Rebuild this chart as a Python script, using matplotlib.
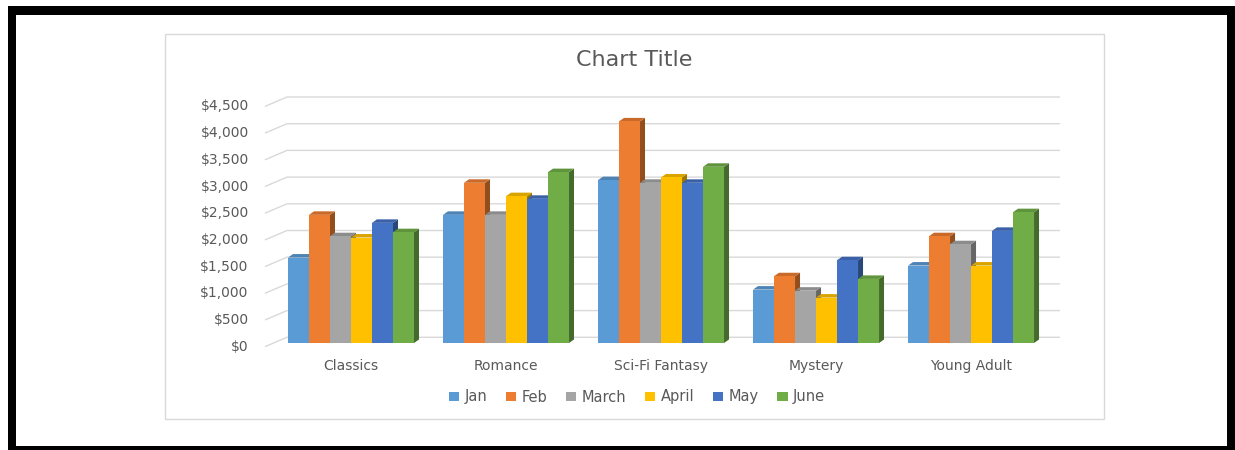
import matplotlib
matplotlib.use('Agg')
import matplotlib.pyplot as plt
import matplotlib.colors as mcolors
import matplotlib.transforms as mtransforms
from matplotlib.patches import Polygon, Rectangle, Patch

# monthly sales per genre
categories = ['Classics', 'Romance', 'Sci-Fi Fantasy', 'Mystery', 'Young Adult']
months = ['Jan', 'Feb', 'March', 'April', 'May', 'June']
jan = [1600, 2400, 3050, 1000, 1450]
feb = [2400, 3000, 4150, 1250, 2000]
march = [2000, 2400, 3000, 980, 1850]
april = [1975, 2750, 3100, 850, 1450]
may = [2250, 2700, 3000, 1550, 2100]
june = [2075, 3200, 3300, 1200, 2450]
yticks = [0, 500, 1000, 1500, 2000, 2500, 3000, 3500, 4000, 4500]

series = [jan, feb, march, april, may, june]
colors = ['#5B9BD5', '#ED7D31', '#A5A5A5', '#FFC000', '#4472C4', '#70AD47']
text_color = '#595959'
grid_color = '#D9D9D9'

W, H = 1235, 450
fig = plt.figure(figsize=(W / 100, H / 100), dpi=100)


def px_box(x0, y0, x1, y1):
    # pixel box (top-left origin) -> figure fraction rectangle args
    return (x0 / W, 1 - y1 / H), (x1 - x0) / W, (y1 - y0) / H


# black frame round the sheet
for box in [(8, 6, 16, 450), (8, 6, 1235, 15), (1227, 6, 1235, 450), (8, 446, 1235, 450)]:
    xy, w, h = px_box(*box)
    fig.add_artist(Rectangle(xy, w, h, transform=fig.transFigure,
                             facecolor='black', edgecolor='none'))

# chart area border
xy, w, h = px_box(165, 34, 1104, 419)
fig.add_artist(Rectangle(xy, w, h, transform=fig.transFigure, facecolor='white',
                         edgecolor=grid_color, linewidth=1, zorder=0))

ax = fig.add_axes([250 / W, (H - 355) / H, 830 / W, 265 / H])
ax.patch.set_visible(False)
ax.set_xlim(-0.6516, 4.703)
ax.set_ylim(-225, 4738)
for s in ax.spines.values():
    s.set_visible(False)

# pixel -> data scale factors
xpx = 1 / 155.0
ypx = 1 / 0.0534

# back wall gridlines with the slanted floor/side edge at the left
back_dy = 5.7 * ypx
front_dy = -3.7 * ypx
for v in yticks:
    ax.plot([-0.555, -0.413, 4.574], [v + front_dy, v + back_dy, v + back_dy],
            color=grid_color, lw=1, zorder=1, solid_capstyle='butt')

# y labels sit at the front edge
offset = mtransforms.ScaledTranslation(0, -3.7 / 100, fig.dpi_scale_trans)
for v in yticks:
    ax.text(-0.66, v, '${:,}'.format(v), transform=ax.transData + offset,
            ha='right', va='center', fontsize=10, color=text_color)

# 3D columns: front face via bar(), side and top faces as polygons
pitch = 21 * xpx
dx = 5 * xpx
dy = 3.5 * ypx
z = 2
for i in range(len(categories)):
    for j, (vals, c) in enumerate(zip(series, colors)):
        v = vals[i]
        x0 = i - 3 * pitch + j * pitch
        x1 = x0 + pitch
        rgb = mcolors.to_rgb(c)
        side = tuple(k * 0.62 for k in rgb)
        top = tuple(k * 0.85 for k in rgb)
        ax.add_patch(Polygon([(x1, 0), (x1 + dx, dy), (x1 + dx, v + dy), (x1, v)],
                             closed=True, facecolor=side, edgecolor='none', zorder=z))
        ax.add_patch(Polygon([(x0, v), (x0 + dx, v + dy), (x1 + dx, v + dy), (x1, v)],
                             closed=True, facecolor=top, edgecolor='none', zorder=z))
        ax.bar(x0, v, width=pitch, align='edge', color=c, edgecolor='none',
               linewidth=0, zorder=z + 0.5)
        z += 1

ax.set_yticks([])
ax.set_xticks(range(len(categories)))
ax.set_xticklabels(categories, fontsize=10, color=text_color)
ax.tick_params(axis='x', length=0, pad=3)

fig.text(634 / W, 1 - 60 / H, 'Chart Title', ha='center', va='center',
         fontsize=16, color=text_color)

handles = [Patch(facecolor=c, edgecolor='none') for c in colors]
fig.legend(handles, months, loc='center', bbox_to_anchor=(637 / W, 1 - 397 / H),
           ncol=6, frameon=False, fontsize=10.5, labelcolor=text_color,
           handlelength=0.7, handleheight=0.55, handletextpad=0.35,
           columnspacing=1.3)

fig.savefig('out.png', dpi=100)
